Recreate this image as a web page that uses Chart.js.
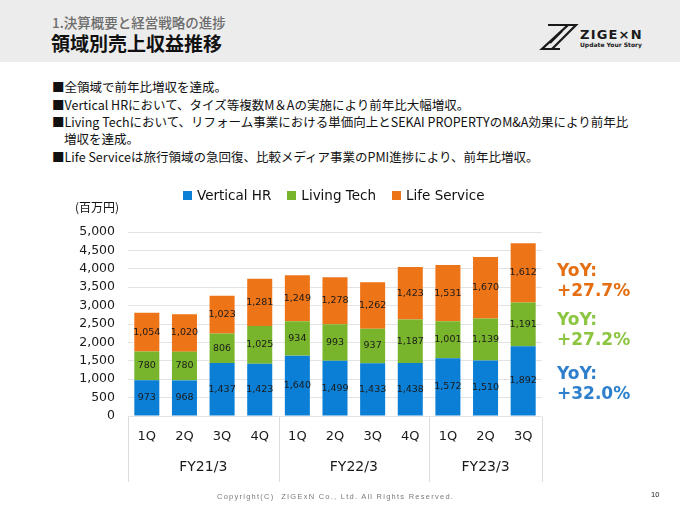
<!DOCTYPE html>
<html>
<head>
<meta charset="utf-8">
<script src="https://cdn.jsdelivr.net/npm/chart.js@4.4.0/dist/chart.umd.min.js"></script>
<style>
html,body{margin:0;padding:0;background:#fff;}
#page{position:relative;width:680px;height:510px;overflow:hidden;font-family:"Noto Sans CJK JP","Noto Sans",sans-serif;}
.abs{position:absolute;white-space:nowrap;}
#band{position:absolute;left:0;top:0;width:680px;height:62px;background:#ececec;}
#sub{left:52px;top:12px;font-size:13.5px;line-height:20px;color:#6d6d6d;font-weight:500;}
#title{left:51px;top:31px;font-size:19px;line-height:24px;color:#111;font-weight:700;}
.bl{left:52px;font-size:12.5px;line-height:16px;color:#111;letter-spacing:0px;}
#legend{position:absolute;left:183px;top:186px;height:18px;display:flex;align-items:center;font-family:"DejaVu Sans";font-size:13.5px;color:#111;}
#legend .it{display:flex;align-items:center;margin-right:16px;}
#legend .sq{width:9px;height:9px;margin-right:5px;}
#unit{left:75px;top:199px;font-size:12px;line-height:16px;color:#111;}
.yoy{left:557px;font-family:"DejaVu Sans";font-weight:700;font-size:17px;line-height:20px;}
#copy{left:217px;top:492px;font-family:"Liberation Sans";font-size:7.5px;line-height:10px;letter-spacing:1.25px;color:#7a7a7a;}
#pno{left:651px;top:490px;font-family:"Liberation Sans";font-size:7.5px;line-height:10px;color:#222;}
#logoT{left:580px;top:26px;font-family:"DejaVu Sans";font-weight:700;font-size:13px;line-height:18px;letter-spacing:1.2px;color:#1a1a1a;}
#logoS{left:580px;top:41px;font-family:"DejaVu Sans";font-weight:700;font-size:6px;line-height:8px;color:#1a1a1a;}
canvas{position:absolute;left:0;top:0;}
</style>
</head>
<body>
<div id="page">
  <div id="band"></div>
  <div class="abs" id="sub">1.決算概要と経営戦略の進捗</div>
  <div class="abs" id="title">領域別売上収益推移</div>
  <svg class="abs" style="left:538px;top:22px" width="42" height="30" viewBox="0 0 42 30">
    <g fill="none" stroke="#1a1a1a" stroke-width="2.2" stroke-linejoin="miter">
      <polyline points="10,3 30,3 4,27 22,27"/>
      <polyline points="18,3 38,3 14,27"/>
      <line x1="24" y1="9" x2="12" y2="21"/>
    </g>
  </svg>
  <div class="abs" id="logoT">ZIGE×N</div>
  <div class="abs" id="logoS">Update Your Story</div>

  <div class="abs bl" style="top:79px">■全領域で前年比増収を達成。</div>
  <div class="abs bl" style="top:97px">■Vertical HRにおいて、タイズ等複数M＆Aの実施により前年比大幅増収。</div>
  <div class="abs bl" style="top:114px">■Living Techにおいて、リフォーム事業における単価向上とSEKAI PROPERTYのM&amp;A効果により前年比</div>
  <div class="abs bl" style="top:131px;left:64px">増収を達成。</div>
  <div class="abs bl" style="top:149px">■Life Serviceは旅行領域の急回復、比較メディア事業のPMI進捗により、前年比増収。</div>

  <canvas id="c" width="680" height="510"></canvas>

  <div id="legend"></div>
  <div class="abs" id="unit">(百万円)</div>

  <div class="abs yoy" style="top:260px;color:#e56d12">YoY:<br>+27.7%</div>
  <div class="abs yoy" style="top:309px;color:#8cc540">YoY:<br>+27.2%</div>
  <div class="abs yoy" style="top:363px;color:#2f80cc">YoY:<br>+32.0%</div>

  <div class="abs" id="copy">Copyright(C)&nbsp; ZIGExN Co., Ltd. All Rights Reserved.</div>
  <div class="abs" id="pno">10</div>
</div>
<script>
// ---- data ----
const quarters = ['1Q','2Q','3Q','4Q','1Q','2Q','3Q','4Q','1Q','2Q','3Q'];
const fiscalYears = ['FY21/3','FY21/3','FY21/3','FY21/3','FY22/3','FY22/3','FY22/3','FY22/3','FY23/3','FY23/3','FY23/3'];
const seriesNames = ['Vertical HR','Living Tech','Life Service'];
const verticalHR = [973, 968, 1437, 1423, 1640, 1499, 1433, 1438, 1572, 1510, 1892];
const livingTech = [780, 780, 806, 1025, 934, 993, 937, 1187, 1001, 1139, 1191];
const lifeService = [1054, 1020, 1023, 1281, 1249, 1278, 1262, 1423, 1531, 1670, 1612];
const yMin = 0, yMax = 5000, yStep = 500;
const seriesColors = ['#0b7fd5', '#79b52c', '#ee7418'];

// legend (HTML)
const lg = document.getElementById('legend');
seriesNames.forEach((n, i) => {
  const it = document.createElement('div'); it.className = 'it';
  const sq = document.createElement('div'); sq.className = 'sq'; sq.style.background = seriesColors[i];
  const tx = document.createElement('span'); tx.textContent = n;
  it.appendChild(sq); it.appendChild(tx); lg.appendChild(it);
});

const fmt = v => v.toLocaleString('en-US');

const segLabels = {
  id: 'segLabels',
  afterDatasetsDraw(chart) {
    const ctx = chart.ctx;
    ctx.save();
    ctx.font = '9.5px "DejaVu Sans"';
    ctx.fillStyle = '#1a1a1a';
    ctx.textAlign = 'center';
    ctx.textBaseline = 'middle';
    chart.data.datasets.forEach((ds, di) => {
      const meta = chart.getDatasetMeta(di);
      meta.data.forEach((el, i) => {
        const y = (el.y + el.base) / 2;
        ctx.fillText(fmt(ds.data[i]), el.x, y);
      });
    });
    ctx.restore();
  }
};

const groupAxis = {
  id: 'groupAxis',
  afterDraw(chart) {
    const x = chart.scales.x, ctx = chart.ctx, ca = chart.chartArea;
    const n = quarters.length;
    const half = (x.getPixelForValue(1) - x.getPixelForValue(0)) / 2;
    const top = ca.bottom + 1, bot = ca.bottom + 66;
    ctx.save();
    ctx.strokeStyle = '#dcdcdc'; ctx.lineWidth = 1;
    const sep = px => { const p = Math.round(px) + 0.5; ctx.beginPath(); ctx.moveTo(p, top); ctx.lineTo(p, bot); ctx.stroke(); };
    ctx.font = '14px "DejaVu Sans"'; ctx.fillStyle = '#1a1a1a';
    ctx.textAlign = 'center'; ctx.textBaseline = 'middle';
    let start = 0;
    for (let i = 1; i <= n; i++) {
      if (i === n || fiscalYears[i] !== fiscalYears[start]) {
        const l = x.getPixelForValue(start) - half, r = x.getPixelForValue(i - 1) + half;
        sep(l); if (i === n) sep(r);
        ctx.fillText(fiscalYears[start], (l + r) / 2, ca.bottom + 51);
        start = i;
      }
    }
    ctx.restore();
  }
};

new Chart(document.getElementById('c'), {
  type: 'bar',
  data: {
    labels: quarters,
    datasets: [
      { label: seriesNames[0], data: verticalHR, backgroundColor: seriesColors[0] },
      { label: seriesNames[1], data: livingTech, backgroundColor: seriesColors[1] },
      { label: seriesNames[2], data: lifeService, backgroundColor: seriesColors[2] }
    ]
  },
  options: {
    responsive: false,
    animation: false,
    devicePixelRatio: 1,
    datasets: { bar: { categoryPercentage: 1, barPercentage: 0.665 } },
    layout: { padding: { top: 232, right: 138, bottom: 24, left: 0 } },
    plugins: { legend: { display: false }, tooltip: { enabled: false } },
    scales: {
      x: {
        stacked: true,
        grid: { display: false, drawTicks: false },
        border: { display: false },
        ticks: { padding: 13, color: '#1a1a1a', font: { family: 'DejaVu Sans', size: 13 }, maxRotation: 0, autoSkip: false },
        afterFit: s => { s.height = 70; }
      },
      y: {
        stacked: true,
        min: yMin, max: yMax,
        grid: { color: '#e3e3e3', drawTicks: false },
        border: { display: false },
        ticks: { stepSize: yStep, padding: 13, color: '#1a1a1a', font: { family: 'DejaVu Sans', size: 12.5 }, callback: v => fmt(v) },
        afterFit: s => { s.width = 128; }
      }
    }
  },
  plugins: [segLabels, groupAxis]
});
</script>
</body>
</html>
